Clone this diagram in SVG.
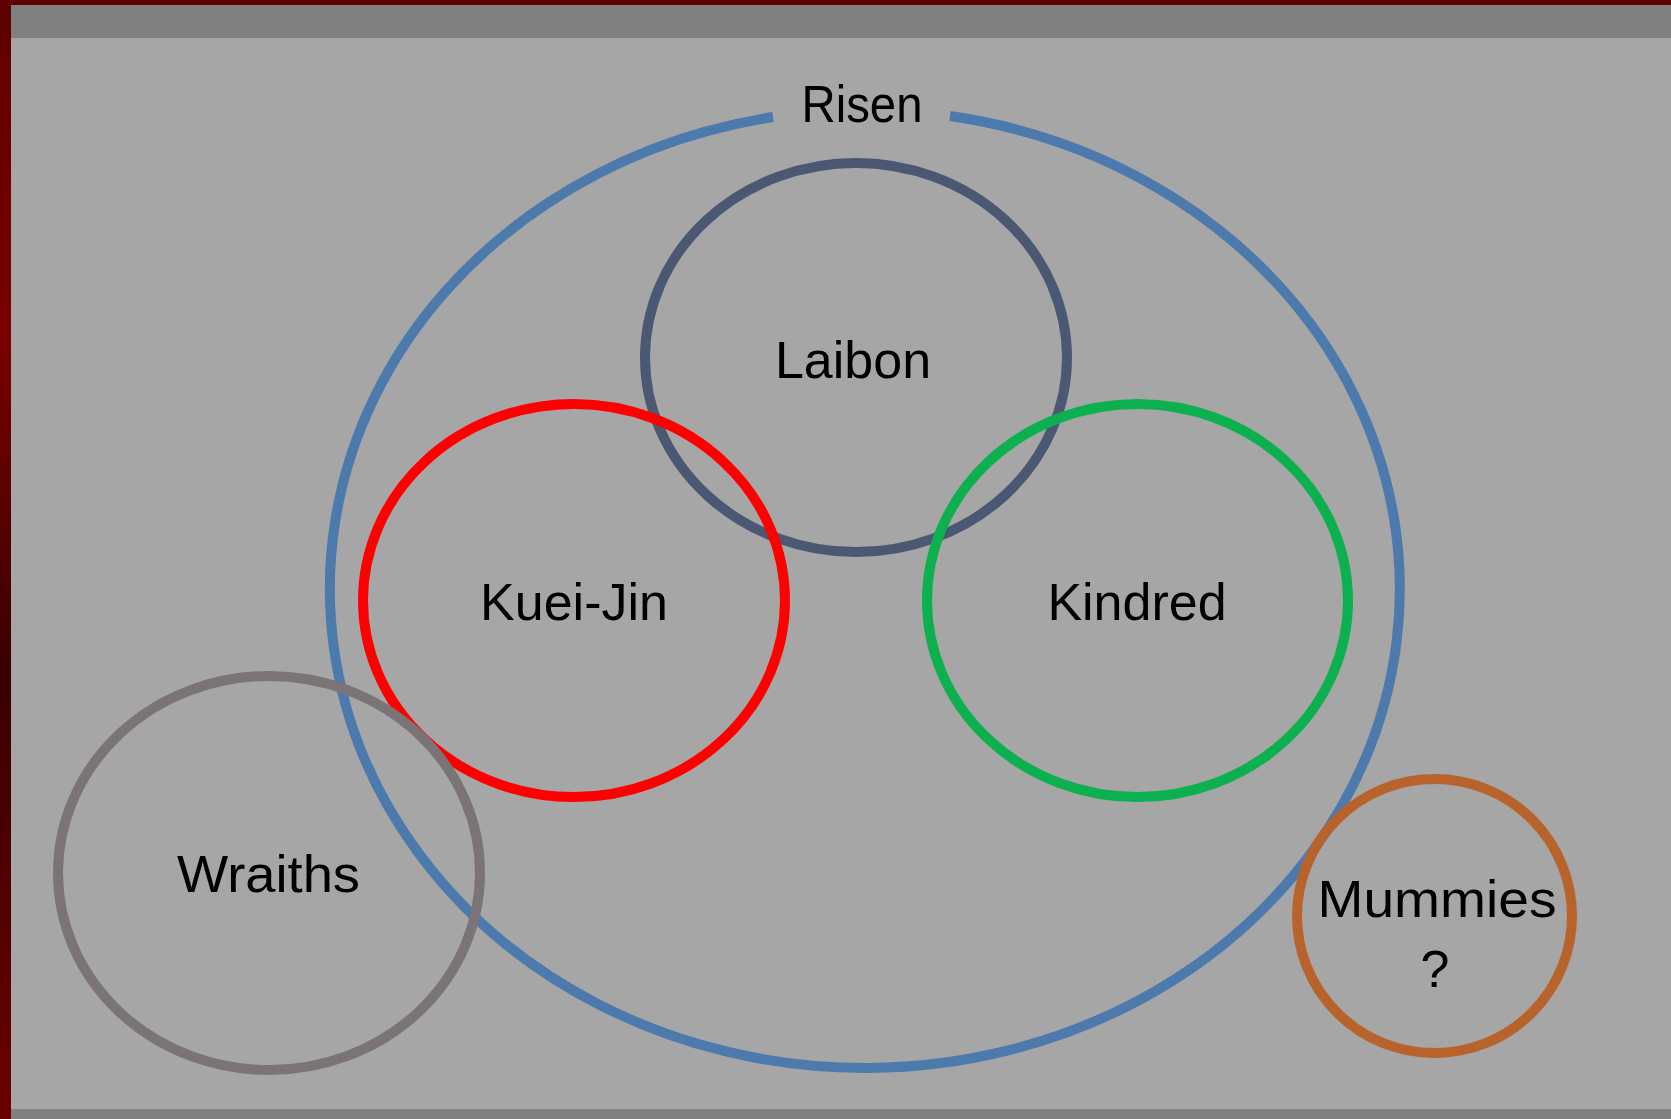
<svg xmlns="http://www.w3.org/2000/svg" width="1671" height="1119" viewBox="0 0 1671 1119">
  <defs>
    <linearGradient id="redbg" x1="0" y1="0" x2="0" y2="1">
      <stop offset="0" stop-color="#5e0000"/>
      <stop offset="0.3" stop-color="#7a0000"/>
      <stop offset="0.6" stop-color="#3a0000"/>
      <stop offset="1" stop-color="#6a0000"/>
    </linearGradient>
  </defs>
  <style>
    .ring { fill: none; stroke-width: 10; }
    .lbl { font-family: "Liberation Sans", Arial, sans-serif; font-size: 52px; fill: #000; text-anchor: middle; }
  </style>
  <rect x="0" y="0" width="1671" height="1119" fill="url(#redbg)"/>
  <rect x="11" y="5" width="1660" height="1114" fill="#a6a6a6"/>
  <rect x="11" y="5" width="1660" height="33" fill="#808080"/>
  <rect x="11" y="1109" width="1660" height="10" fill="#808080"/>

  <g id="risen">
    <path class="ring" stroke="#4d7aad" d="M 950 116 A 535 479 0 1 1 773 117"/>
    <text class="lbl" x="862" y="122" textLength="121" lengthAdjust="spacingAndGlyphs">Risen</text>
  </g>
  <g id="laibon">
    <ellipse class="ring" stroke="#4a5873" cx="856" cy="357.5" rx="211" ry="194.5"/>
    <text class="lbl" x="853" y="378">Laibon</text>
  </g>
  <g id="kuei-jin">
    <ellipse class="ring" stroke="#ff0000" cx="574" cy="600.5" rx="211" ry="196.5"/>
    <text class="lbl" x="574" y="620">Kuei-Jin</text>
  </g>
  <g id="kindred">
    <ellipse class="ring" stroke="#0db04f" cx="1137.5" cy="600.5" rx="210.5" ry="196.5"/>
    <text class="lbl" x="1137" y="620">Kindred</text>
  </g>
  <g id="wraiths">
    <ellipse class="ring" stroke="#7a7476" cx="269" cy="873" rx="211" ry="197"/>
    <text class="lbl" x="268.5" y="892" textLength="183" lengthAdjust="spacingAndGlyphs">Wraiths</text>
  </g>
  <g id="mummies">
    <ellipse class="ring" stroke="#b8632c" cx="1434.5" cy="916" rx="137.5" ry="137"/>
    <text class="lbl" x="1437" y="917" textLength="239" lengthAdjust="spacingAndGlyphs">Mummies</text>
    <text class="lbl" x="1435" y="987">?</text>
  </g>
  <g id="connectors"/>
</svg>
